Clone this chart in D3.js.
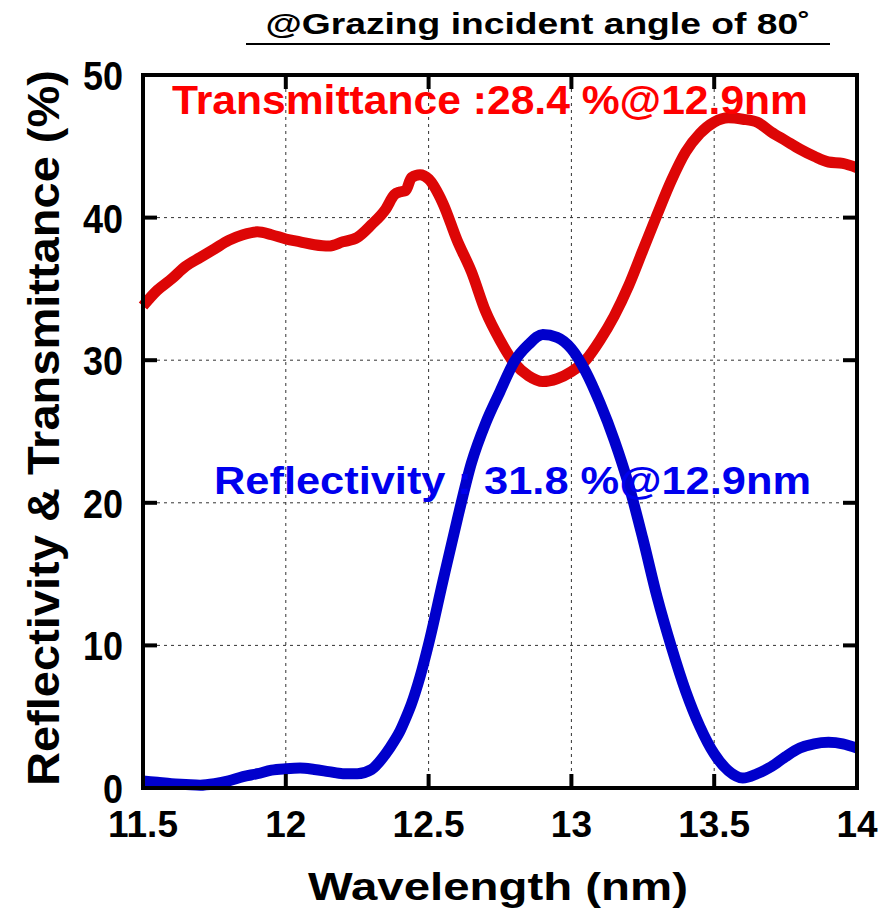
<!DOCTYPE html>
<html>
<head>
<meta charset="utf-8">
<script src="https://cdn.jsdelivr.net/npm/d3@7"></script>
<style>
  body { margin: 0; background: #fff; }
  text { font-family: "Liberation Sans", Arial, sans-serif; font-weight: bold; }
</style>
</head>
<body>
<svg id="chart" width="878" height="916"></svg>
<script>
// wavelength (nm)
var wavelength = [11.5, 11.55, 11.6, 11.65, 11.7, 11.75, 11.8, 11.85, 11.9, 11.95,
  12.0, 12.05, 12.1, 12.15, 12.2, 12.25, 12.3, 12.35, 12.38, 12.4, 12.42, 12.44, 12.47,
  12.5, 12.55, 12.6, 12.65, 12.7, 12.75, 12.8, 12.85, 12.9, 12.95,
  13.0, 13.05, 13.1, 13.15, 13.2, 13.25, 13.3, 13.35, 13.4, 13.45,
  13.5, 13.55, 13.6, 13.65, 13.7, 13.75, 13.8, 13.85, 13.9, 13.95, 14.0];

// transmittance (%)
var transmittance = [33.8, 34.9, 35.7, 36.6, 37.2, 37.8, 38.4, 38.8, 39.0, 38.8,
  38.5, 38.3, 38.1, 38.0, 38.3, 38.6, 39.5, 40.6, 41.6, 41.8, 41.9, 42.8, 43.0,
  42.7, 41.0, 38.4, 36.2, 33.4, 31.4, 29.8, 28.9, 28.5, 28.7,
  29.2, 30.0, 31.4, 33.1, 35.2, 37.7, 40.2, 42.6, 44.6, 45.9,
  46.7, 47.0, 46.9, 46.7, 46.0, 45.4, 44.8, 44.3, 43.9, 43.8, 43.5];

// reflectivity (%)
var reflectivity = [0.5, 0.4, 0.3, 0.25, 0.2, 0.3, 0.5, 0.8, 1.0, 1.25,
  1.35, 1.4, 1.3, 1.15, 1.0, 1.0, 1.3, 2.4, 3.3, 4.0, 4.9, 5.9, 7.8,
  10.1, 14.5, 18.8, 22.8, 25.6, 27.8, 29.9, 31.1, 31.8, 31.6,
  30.8, 29.2, 27.0, 24.4, 21.3, 17.5, 13.4, 9.9, 6.8, 4.3,
  2.4, 1.2, 0.7, 1.0, 1.5, 2.2, 2.8, 3.1, 3.2, 3.1, 2.8];

var xTicks = [11.5, 12, 12.5, 13, 13.5, 14];
var yTicks = [0, 10, 20, 30, 40, 50];

var svg = d3.select("#chart");
var plotLeft = 143, plotRight = 857, plotTop = 75, plotBottom = 788;

var x = d3.scaleLinear().domain([11.5, 14]).range([plotLeft, plotRight]);
var y = d3.scaleLinear().domain([0, 50]).range([plotBottom, plotTop]);

// grid
svg.append("g").selectAll("line")
  .data(xTicks.slice(1, -1))
  .enter().append("line")
  .attr("x1", d => x(d)).attr("x2", d => x(d))
  .attr("y1", plotTop).attr("y2", plotBottom)
  .attr("stroke", "#333").attr("stroke-width", 1).attr("stroke-dasharray", "3,4");
svg.append("g").selectAll("line")
  .data(yTicks.slice(1, -1))
  .enter().append("line")
  .attr("y1", d => y(d)).attr("y2", d => y(d))
  .attr("x1", plotLeft).attr("x2", plotRight)
  .attr("stroke", "#333").attr("stroke-width", 1).attr("stroke-dasharray", "3,4");

// curves
var line = function (vals) {
  return d3.line()
    .x((d, i) => x(wavelength[i]))
    .y(d => y(d))
    .curve(d3.curveMonotoneX)(vals);
};

svg.append("path")
  .attr("d", line(transmittance))
  .attr("fill", "none").attr("stroke", "#dd0606").attr("stroke-width", 11)
  .attr("stroke-linejoin", "round");

svg.append("path")
  .attr("d", line(reflectivity))
  .attr("fill", "none").attr("stroke", "#0000cc").attr("stroke-width", 11)
  .attr("stroke-linejoin", "round");

// frame and inside ticks
svg.append("rect")
  .attr("x", plotLeft).attr("y", plotTop)
  .attr("width", plotRight - plotLeft).attr("height", plotBottom - plotTop)
  .attr("fill", "none").attr("stroke", "#000").attr("stroke-width", 4);

var tickLen = 14;
var ticks = svg.append("g").attr("stroke", "#000").attr("stroke-width", 4);
xTicks.slice(1, -1).forEach(function (t) {
  ticks.append("line").attr("x1", x(t)).attr("x2", x(t)).attr("y1", plotBottom).attr("y2", plotBottom - tickLen);
  ticks.append("line").attr("x1", x(t)).attr("x2", x(t)).attr("y1", plotTop).attr("y2", plotTop + tickLen);
});
yTicks.slice(1, -1).forEach(function (t) {
  ticks.append("line").attr("y1", y(t)).attr("y2", y(t)).attr("x1", plotLeft).attr("x2", plotLeft + tickLen);
  ticks.append("line").attr("y1", y(t)).attr("y2", y(t)).attr("x1", plotRight).attr("x2", plotRight - tickLen);
});

// tick labels
svg.append("g").selectAll("text")
  .data(xTicks)
  .enter().append("text")
  .attr("x", d => x(d)).attr("y", 837)
  .attr("text-anchor", "middle").attr("font-size", 37)
  .text(d => d);

svg.append("g").selectAll("text")
  .data(yTicks)
  .enter().append("text")
  .attr("transform", d => "translate(123," + (y(d) + 15) + ") scale(1,1.15)")
  .attr("text-anchor", "end").attr("font-size", 36)
  .text(d => d);

// axis titles
svg.append("text")
  .attr("x", 498).attr("y", 900)
  .attr("text-anchor", "middle").attr("font-size", 39)
  .attr("textLength", 380).attr("lengthAdjust", "spacingAndGlyphs")
  .text("Wavelength (nm)");

svg.append("text")
  .attr("transform", "translate(59,428) rotate(-90)")
  .attr("text-anchor", "middle").attr("font-size", 45)
  .attr("textLength", 716).attr("lengthAdjust", "spacingAndGlyphs")
  .text("Reflectivity & Transmittance (%)");

// title
svg.append("text")
  .attr("x", 538).attr("y", 34)
  .attr("text-anchor", "middle").attr("font-size", 29)
  .attr("textLength", 545).attr("lengthAdjust", "spacingAndGlyphs")
  .text("@Grazing incident angle of 80˚");
svg.append("line")
  .attr("x1", 246).attr("x2", 830).attr("y1", 44).attr("y2", 44)
  .attr("stroke", "#000").attr("stroke-width", 2);

// annotations
svg.append("text")
  .attr("x", 172).attr("y", 114)
  .attr("font-size", 40).attr("fill", "#ff0000")
  .attr("textLength", 636).attr("lengthAdjust", "spacingAndGlyphs")
  .text("Transmittance :28.4 %@12.9nm");

svg.append("text")
  .attr("x", 214).attr("y", 494)
  .attr("font-size", 38).attr("fill", "#0000ee")
  .attr("textLength", 597).attr("lengthAdjust", "spacingAndGlyphs")
  .text("Reflectivity :  31.8 %@12.9nm");
</script>
</body>
</html>
